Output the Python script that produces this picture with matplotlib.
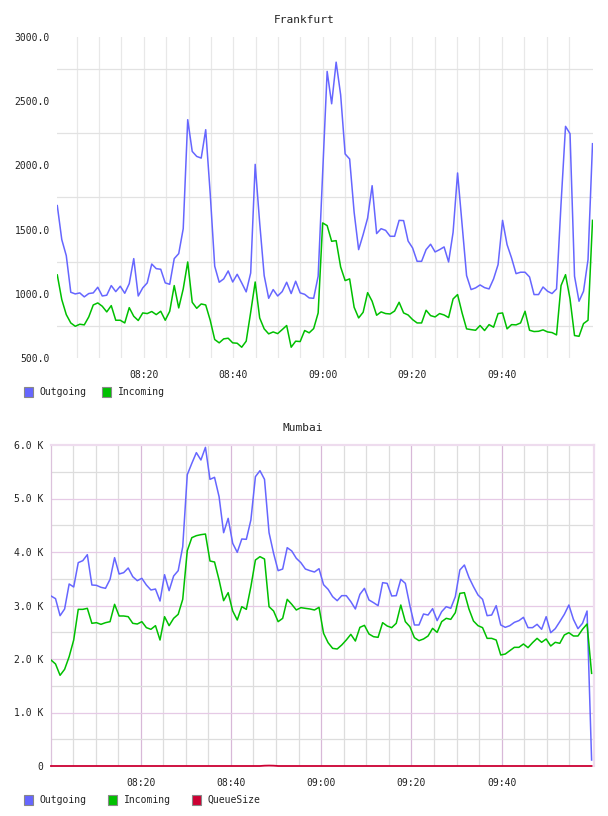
import numpy as np
import matplotlib
matplotlib.use("Agg")
import matplotlib.pyplot as plt
from matplotlib.patches import Rectangle

# ---------------- data ----------------
series_names = ["Outgoing", "Incoming", "QueueSize"]
tick_minutes = [20, 40, 60, 80, 100]
tick_labels = ["08:20", "08:40", "09:00", "09:20", "09:40"]

fra_out = [1687, 1422, 1297, 1012, 999, 1007, 976, 1002, 1007, 1051,
           983, 989, 1064, 1017, 1059, 1004, 1079, 1274, 983, 1046,
           1085, 1232, 1196, 1191, 1085, 1074, 1274, 1313, 1507, 2356,
           2109, 2070, 2057, 2278, 1780, 1215, 1090, 1116, 1178, 1092,
           1152, 1085, 1015, 1162, 2008, 1552, 1142, 965, 1033, 983,
           1017, 1090, 1002, 1098, 1007, 996, 968, 965, 1137, 1940,
           2732, 2480, 2804, 2550, 2089, 2050, 1635, 1344, 1461, 1590,
           1842, 1469, 1507, 1494, 1448, 1448, 1572, 1570, 1411, 1357,
           1253, 1253, 1344, 1386, 1326, 1344, 1365, 1248, 1479, 1941,
           1540, 1142, 1033, 1046, 1069, 1048, 1038, 1116, 1227, 1572,
           1383, 1279, 1157, 1168, 1168, 1131, 994, 994, 1053, 1020,
           1002, 1038, 1700, 2304, 2247, 1137, 942, 1020, 1266, 2169]

fra_in = [1147, 955, 838, 773, 747, 763, 758, 820, 913, 929,
          903, 859, 908, 794, 794, 773, 892, 825, 792, 851,
          846, 862, 838, 864, 794, 864, 1064, 890, 1038, 1248,
          934, 887, 921, 913, 794, 644, 618, 649, 654, 618,
          615, 584, 631, 856, 1092, 812, 727, 688, 703, 690,
          721, 753, 584, 631, 628, 714, 696, 729, 851, 1552,
          1531, 1409, 1414, 1209, 1103, 1116, 895, 812, 856, 1009,
          942, 833, 859, 846, 843, 866, 934, 851, 835, 799,
          773, 773, 872, 830, 820, 846, 835, 815, 960, 994,
          851, 727, 721, 716, 753, 714, 760, 740, 846, 851,
          727, 760, 758, 773, 864, 716, 706, 708, 719, 703,
          698, 680, 1064, 1149, 960, 675, 669, 768, 794, 1572]

# Mumbai values in thousands
mum_out = [3.178, 3.128, 2.810, 2.935, 3.402, 3.346, 3.801, 3.838, 3.950, 3.383,
           3.377, 3.340, 3.321, 3.489, 3.894, 3.589, 3.614, 3.701, 3.539, 3.464,
           3.508, 3.383, 3.290, 3.308, 3.084, 3.576, 3.277, 3.551, 3.651, 4.100,
           5.445, 5.657, 5.857, 5.720, 5.956, 5.358, 5.396, 5.034, 4.361, 4.629,
           4.162, 3.994, 4.243, 4.237, 4.598, 5.408, 5.520, 5.358, 4.361, 3.975,
           3.651, 3.682, 4.081, 4.019, 3.882, 3.801, 3.682, 3.651, 3.626, 3.688,
           3.389, 3.302, 3.165, 3.090, 3.184, 3.184, 3.072, 2.935, 3.209, 3.321,
           3.103, 3.053, 2.997, 3.427, 3.414, 3.178, 3.184, 3.489, 3.414, 2.997,
           2.636, 2.636, 2.841, 2.822, 2.941, 2.717, 2.885, 2.978, 2.947, 3.165,
           3.664, 3.757, 3.526, 3.352, 3.196, 3.115, 2.810, 2.822, 2.997, 2.636,
           2.592, 2.623, 2.685, 2.717, 2.779, 2.586, 2.586, 2.648, 2.555, 2.791,
           2.492, 2.567, 2.698, 2.835, 3.009, 2.741, 2.567, 2.667, 2.897, 0.112]

mum_in = [1.981, 1.907, 1.695, 1.807, 2.044, 2.355, 2.928, 2.928, 2.947, 2.667,
          2.679, 2.648, 2.679, 2.698, 3.022, 2.804, 2.804, 2.791, 2.667, 2.654,
          2.698, 2.586, 2.555, 2.623, 2.355, 2.791, 2.623, 2.760, 2.835, 3.115,
          4.025, 4.268, 4.305, 4.324, 4.336, 3.832, 3.813, 3.477, 3.090, 3.240,
          2.897, 2.729, 2.978, 2.928, 3.352, 3.850, 3.913, 3.869, 2.978, 2.897,
          2.698, 2.760, 3.115, 3.022, 2.916, 2.960, 2.947, 2.935, 2.916, 2.966,
          2.480, 2.305, 2.199, 2.187, 2.262, 2.355, 2.461, 2.336, 2.592, 2.629,
          2.467, 2.417, 2.405, 2.679, 2.617, 2.586, 2.667, 3.009, 2.698, 2.604,
          2.399, 2.343, 2.374, 2.430, 2.573, 2.498, 2.698, 2.760, 2.741, 2.866,
          3.227, 3.240, 2.935, 2.710, 2.623, 2.586, 2.386, 2.386, 2.355, 2.075,
          2.093, 2.156, 2.218, 2.218, 2.280, 2.212, 2.305, 2.386, 2.312, 2.374,
          2.243, 2.312, 2.293, 2.449, 2.492, 2.430, 2.430, 2.555, 2.654, 1.732]

mum_queue = [0.0] * 47 + [0.006, 0.008, 0.006] + [0.0] * 70

fra_yticks = [500, 1000, 1500, 2000, 2500, 3000]
mum_yticks = [0, 1, 2, 3, 4, 5, 6]

# sample times (minutes after 08:00), regular sampling
fra_t = 0.67 + np.arange(len(fra_out)) * 1.005
mum_t = 0.13 + np.arange(len(mum_out)) * 1.0067

# ---------------- styling ----------------
W, H = 608, 816
FONT = "DejaVu Sans Mono"
C_OUT = "#6666ff"
C_IN = "#00c000"
C_Q = "#cc0033"
TXT = "#222222"

fig = plt.figure(figsize=(W / 100, H / 100), dpi=100)
fig.patch.set_facecolor("white")


def px_axes(l, t, r, b):
    return fig.add_axes([l / W, 1 - b / H, (r - l) / W, (b - t) / H])


def legend(y, items):
    for sx, tx, col, name in items:
        fig.add_artist(Rectangle((sx / W, 1 - (y + 5) / H), 9 / W, 10 / H,
                                 transform=fig.transFigure, facecolor=col,
                                 edgecolor="#888888", lw=0.8))
        fig.text(tx / W, 1 - y / H, name, ha="left", va="center",
                 fontsize=7, family=FONT, color=TXT)


# ---------------- Frankfurt ----------------
ax1 = px_axes(56.7, 37, 593.3, 358)
ax1.set_xlim(0.54, 120.44)
ax1.set_ylim(500, 3000)
for m in range(5, 120, 5):
    ax1.axvline(m, color="#e8e8e8", lw=0.9, zorder=0)
for v in [750, 1250, 1750, 2250, 2750]:
    ax1.axhline(v, color="#e2e2e2", lw=0.9, zorder=0)
ax1.plot(fra_t, fra_out, color=C_OUT, lw=1.1, zorder=3)
ax1.plot(fra_t, fra_in, color=C_IN, lw=1.1, zorder=3)
for s in ax1.spines.values():
    s.set_visible(False)
ax1.set_yticks(fra_yticks)
ax1.set_yticklabels([f"{v:.1f}" for v in fra_yticks])
ax1.set_xticks(tick_minutes)
ax1.set_xticklabels(tick_labels)
ax1.tick_params(length=0, labelsize=7, labelcolor=TXT)
ax1.tick_params(axis="y", pad=5)
ax1.tick_params(axis="x", pad=9)
for lab in ax1.get_xticklabels() + ax1.get_yticklabels():
    lab.set_family(FONT)
fig.text(304 / W, 1 - 20 / H, "Frankfurt", ha="center", va="center",
         fontsize=8, family=FONT, color=TXT)
legend(392, [(24, 39, C_OUT, "Outgoing"), (102, 118, C_IN, "Incoming")])

# ---------------- Mumbai ----------------
ax2 = px_axes(50.67, 445, 594, 766)
ax2.set_xlim(0.06, 120.46)
ax2.set_ylim(0, 6)
PINK_V = "#d8b8d8"
PINK_H = "#e6cae6"
GRAY = "#dddddd"
for m in range(5, 120, 5):
    ax2.axvline(m, color=PINK_V if m % 20 == 0 else GRAY, lw=0.9, zorder=0)
for v in np.arange(0.5, 6.0, 0.5):
    ax2.axhline(v, color=PINK_H if float(v).is_integer() else GRAY, lw=0.9, zorder=0)
ax2.plot(mum_t, mum_out, color=C_OUT, lw=1.1, zorder=3)
ax2.plot(mum_t, mum_in, color=C_IN, lw=1.1, zorder=3)
ax2.plot(mum_t, mum_queue, color=C_Q, lw=1.3, zorder=4, clip_on=False)
ax2.spines["bottom"].set_visible(False)
ax2.spines["left"].set_color("#dcc2dc")
ax2.spines["left"].set_linewidth(0.9)
ax2.spines["top"].set_color("#eedcee")
ax2.spines["top"].set_linewidth(1.6)
ax2.spines["right"].set_color("#eedcee")
ax2.spines["right"].set_linewidth(1.6)
ax2.set_yticks(mum_yticks)
ax2.set_yticklabels(["0" if v == 0 else f"{v:.1f} K" for v in mum_yticks])
ax2.set_xticks(tick_minutes)
ax2.set_xticklabels(tick_labels)
ax2.tick_params(length=0, labelsize=7, labelcolor=TXT)
ax2.tick_params(axis="y", pad=5)
ax2.tick_params(axis="x", pad=9)
for lab in ax2.get_xticklabels() + ax2.get_yticklabels():
    lab.set_family(FONT)
fig.text(303 / W, 1 - 428 / H, "Mumbai", ha="center", va="center",
         fontsize=8, family=FONT, color=TXT)
legend(800, [(24, 39, C_OUT, "Outgoing"), (108, 124, C_IN, "Incoming"),
             (192, 207, C_Q, "QueueSize")])

fig.savefig("out.png", dpi=100, facecolor="white")
